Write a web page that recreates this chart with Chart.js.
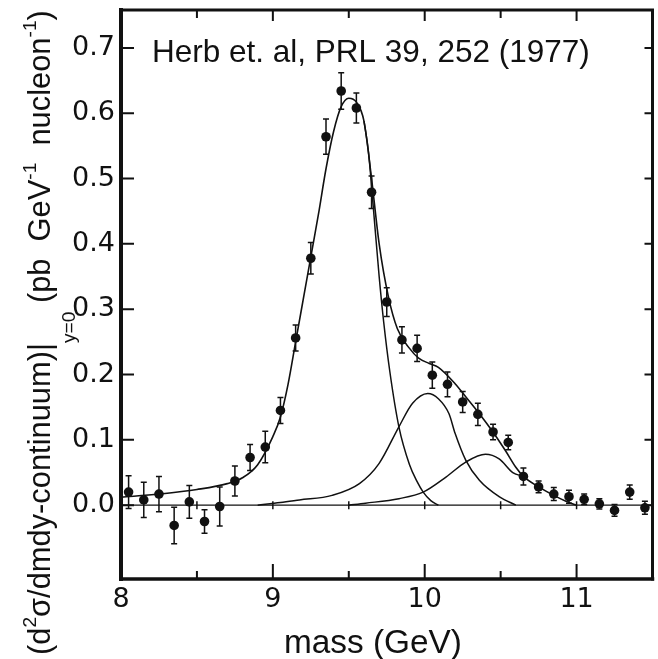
<!DOCTYPE html>
<html><head><meta charset="utf-8">
<script src="https://cdn.jsdelivr.net/npm/chart.js@4.4.1/dist/chart.umd.min.js"></script>
<style>html,body{margin:0;padding:0;background:#fff;overflow:hidden}#wrap{width:658px;height:659px}</style>
</head><body><div id="wrap"><canvas id="c" width="658" height="659"></canvas></div>
<script>
// ---- data ----
const massBins = [8.05,8.15,8.25,8.35,8.45,8.55,8.65,8.75,8.85,8.95,9.05,9.15,9.25,9.35,9.45,9.55,9.65,9.75,9.85,9.95,10.05,10.15,10.25,10.35,10.45,10.55,10.65,10.75,10.85,10.95,11.05,11.15,11.25,11.35,11.45];
const crossSection = [0.020,0.008,0.017,-0.031,0.005,-0.025,-0.002,0.037,0.073,0.089,0.145,0.256,0.378,0.564,0.634,0.608,0.479,0.311,0.253,0.240,0.199,0.185,0.158,0.139,0.112,0.096,0.044,0.028,0.017,0.013,0.009,0.002,-0.008,0.020,-0.004];
const errors = [0.025,0.027,0.027,0.028,0.025,0.018,0.030,0.023,0.020,0.024,0.020,0.020,0.024,0.027,0.028,0.023,0.025,0.022,0.020,0.020,0.020,0.019,0.016,0.017,0.012,0.011,0.013,0.009,0.010,0.010,0.008,0.008,0.009,0.011,0.010];

const fitTotalX = [8.00,8.25,8.50,8.70,8.80,8.90,9.00,9.05,9.10,9.15,9.20,9.25,9.30,9.35,9.40,9.45,9.50,9.55,9.60,9.65,9.70,9.76,9.82,9.90,9.96,10.03,10.09,10.20,10.27,10.36,10.44,10.53,10.60,10.65,10.75,10.85,10.93,11.00];
const fitTotalY = [0.012,0.017,0.024,0.033,0.042,0.062,0.105,0.135,0.185,0.250,0.315,0.380,0.445,0.515,0.572,0.610,0.623,0.617,0.588,0.500,0.400,0.320,0.270,0.240,0.225,0.217,0.211,0.186,0.166,0.140,0.115,0.084,0.058,0.044,0.028,0.015,0.006,0.000];

const upsilon1SX = [9.60,9.63,9.66,9.70,9.73,9.77,9.83,9.90,9.95,9.99,10.04,10.09];
const upsilon1SY = [0.588,0.540,0.460,0.350,0.280,0.205,0.120,0.062,0.036,0.020,0.007,0.000];

const upsilon2SX = [8.90,9.05,9.175,9.39,9.57,9.70,9.83,9.92,10.02,10.09,10.16,10.20,10.27,10.36,10.49,10.60];
const upsilon2SY = [0.000,0.004,0.008,0.015,0.033,0.064,0.120,0.156,0.171,0.163,0.140,0.110,0.069,0.038,0.013,0.000];

const upsilon3SX = [9.50,9.61,9.83,9.99,10.14,10.27,10.40,10.49,10.58,10.65];
const upsilon3SY = [0.000,0.003,0.010,0.020,0.043,0.066,0.078,0.071,0.050,0.044];

const zeroLineX = [8.0, 11.5];
const baselineMarks = [8.5,9.0,9.5,10.0,10.5,11.0];
const xTickValues = [8,9,10,11];
const xTickLabels = ['8','9','10','11'];
const xMinorTicks = [8.5,9.0,9.5,10.0,10.5,11.0];
const yTickValues = [0.0,0.1,0.2,0.3,0.4,0.5,0.6,0.7];
const yTickLabels = ['0.0','0.1','0.2','0.3','0.4','0.5','0.6','0.7'];
const annotationText = 'Herb et. al, PRL 39, 252 (1977)';
const xTitleText = 'mass (GeV)';
const yTitleParts = [
  ['(d','n'],['2','sup'],['σ/dmdy-continuum)','n'],['|','n'],['y=0','sub'],
  [' (pb  GeV','n'],['-1','sup'],['  nucleon','n'],['-1','sup'],[')','n']
];

// ---- build ----
const toPts = (xs, ys) => xs.map((x, i) => ({x, y: ys[i]}));
const INK = '#111';

const lineDs = (xs, ys, w) => ({
  data: toPts(xs, ys), showLine: true, borderColor: INK, borderWidth: w,
  pointRadius: 0, cubicInterpolationMode: 'monotone', fill: false
});

const errorBarPlugin = {
  id: 'errbars',
  afterDatasetsDraw(chart) {
    const {ctx, scales: {x, y}} = chart;
    ctx.save();
    ctx.strokeStyle = INK; ctx.lineWidth = 1.5;
    massBins.forEach((m, i) => {
      const px = x.getPixelForValue(m);
      const t = y.getPixelForValue(crossSection[i] + errors[i]);
      const b = y.getPixelForValue(crossSection[i] - errors[i]);
      ctx.beginPath();
      ctx.moveTo(px, t); ctx.lineTo(px, b);
      ctx.moveTo(px - 3, t); ctx.lineTo(px + 3, t);
      ctx.moveTo(px - 3, b); ctx.lineTo(px + 3, b);
      ctx.stroke();
    });
    ctx.restore();
  }
};

function fitFont(ctx, text, family, target) {
  ctx.font = '30px ' + family;
  return 30 * target / ctx.measureText(text).width;
}

const framePlugin = {
  id: 'frame',
  afterDraw(chart) {
    const {ctx, chartArea: a, scales: {x, y}} = chart;
    ctx.save();
    ctx.strokeStyle = INK; ctx.fillStyle = INK;
    ctx.lineCap = 'butt';
    ctx.lineWidth = 2;
    xMinorTicks.forEach(v => {
      const px = x.getPixelForValue(v), major = Number.isInteger(v);
      ctx.beginPath();
      ctx.moveTo(px, a.bottom); ctx.lineTo(px, a.bottom - (major ? 15 : 8));
      ctx.moveTo(px, a.top); ctx.lineTo(px, a.top + (major ? 11 : 8));
      ctx.stroke();
    });
    yTickValues.forEach(v => {
      const py = y.getPixelForValue(v);
      ctx.beginPath();
      ctx.moveTo(a.left, py); ctx.lineTo(a.left + 13, py);
      ctx.moveTo(a.right, py); ctx.lineTo(a.right - 8, py);
      ctx.stroke();
    });
    // frame
    ctx.lineCap = 'square';
    ctx.lineWidth = 4; ctx.beginPath(); ctx.moveTo(a.left, a.top); ctx.lineTo(a.left, a.bottom); ctx.stroke();
    ctx.lineWidth = 3.5; ctx.beginPath(); ctx.moveTo(a.left, a.bottom); ctx.lineTo(a.right, a.bottom); ctx.stroke();
    ctx.lineWidth = 3; ctx.beginPath(); ctx.moveTo(a.left, a.top); ctx.lineTo(a.right, a.top); ctx.lineTo(a.right, a.bottom); ctx.stroke();

    // annotation
    const fam = '"Liberation Sans", Arial, sans-serif';
    let fs = fitFont(ctx, annotationText, fam, 438);
    ctx.font = fs + 'px ' + fam;
    ctx.textBaseline = 'alphabetic'; ctx.textAlign = 'left';
    ctx.fillText(annotationText, 152, 62);

    // x title
    fs = fitFont(ctx, xTitleText, fam, 178);
    ctx.font = fs + 'px ' + fam;
    ctx.textAlign = 'center';
    ctx.fillText(xTitleText, 373, 653);

    // y title (rotated)
    const base = 30;
    const sizeOf = k => k === 'n' ? base : base * 0.62;
    let total = 0;
    yTitleParts.forEach(([t, k]) => { ctx.font = sizeOf(k) + 'px ' + fam; total += ctx.measureText(t).width; });
    const sc = 645 / total;
    ctx.translate(50, 655);
    ctx.rotate(-Math.PI / 2);
    ctx.textAlign = 'left';
    let cx = 0;
    yTitleParts.forEach(([t, k]) => {
      const s = sizeOf(k) * sc;
      ctx.font = s + 'px ' + fam;
      const dy = k === 'sup' ? -base * sc * 0.45 : (k === 'sub' ? base * sc * 0.8 : 0);
      ctx.fillText(t, cx, dy);
      cx += ctx.measureText(t).width;
    });
    ctx.restore();
  }
};

new Chart(document.getElementById('c'), {
  type: 'scatter',
  data: {
    datasets: [
      { data: toPts(massBins, crossSection), backgroundColor: INK, borderColor: INK, pointRadius: 4.8, pointBorderWidth: 0, showLine: false },
      lineDs(fitTotalX, fitTotalY, 1.6),
      lineDs(upsilon1SX, upsilon1SY, 1.5),
      lineDs(upsilon2SX, upsilon2SY, 1.5),
      lineDs(upsilon3SX, upsilon3SY, 1.5),
      { data: zeroLineX.map(v => ({x: v, y: 0})), showLine: true, borderColor: INK, borderWidth: 1.3, pointRadius: 0 },
      { data: baselineMarks.map(v => ({x: v, y: 0})), showLine: false, pointStyle: 'line', rotation: 90, pointRadius: 4, borderColor: INK, borderWidth: 1.5 }
    ]
  },
  options: {
    responsive: false, animation: false, devicePixelRatio: 1,
    layout: { padding: { left: 0, top: 10, right: 4, bottom: 0 } },
    plugins: { legend: { display: false }, tooltip: { enabled: false } },
    scales: {
      x: {
        type: 'linear', min: 8, max: 11.5,
        grid: { display: false, drawTicks: false }, border: { display: false },
        afterBuildTicks: s => { s.ticks = xTickValues.map(v => ({value: v})); },
        ticks: { padding: 5, color: INK, maxRotation: 0, font: { family: '"DejaVu Sans", sans-serif', size: 27 },
          callback: v => xTickLabels[xTickValues.indexOf(v)] ?? '' },
        afterFit: s => { s.height = 80; s.paddingLeft = 0; s.paddingRight = 0; }
      },
      y: {
        type: 'linear', min: -0.113, max: 0.758,
        grid: { display: false, drawTicks: false }, border: { display: false },
        afterBuildTicks: s => { s.ticks = yTickValues.map(v => ({value: v})); },
        ticks: { padding: 6, color: INK, font: { family: '"DejaVu Sans", sans-serif', size: 27 },
          callback: (v, i) => yTickLabels[i] ?? '' },
        afterFit: s => { s.width = 121; s.paddingTop = 0; s.paddingBottom = 0; }
      }
    }
  },
  plugins: [errorBarPlugin, framePlugin]
});
</script></body></html>
